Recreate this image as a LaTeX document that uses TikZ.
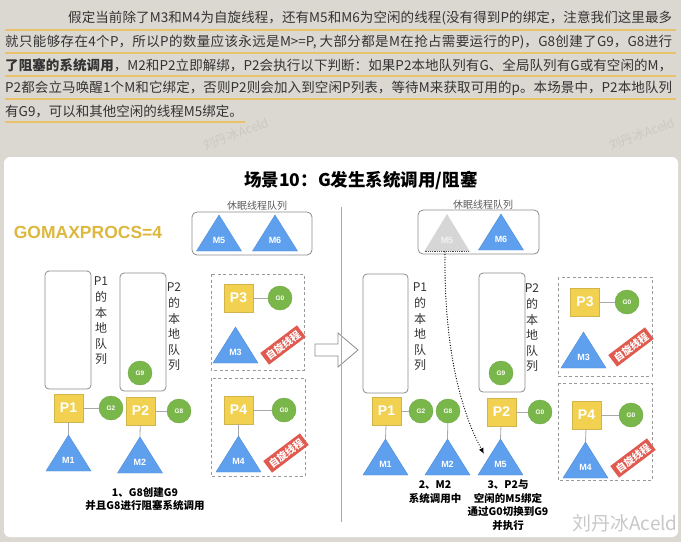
\documentclass[tikz,border=0pt]{standalone}
\usepackage{fontspec}
\setmainfont{Liberation Sans}
\newfontfamily\cjk{Noto Sans CJK SC}
\usetikzlibrary{arrows.meta}
\XeTeXlinebreaklocale "zh"
\XeTeXlinebreakskip=0pt plus 4pt
\definecolor{bgc}{HTML}{DBD8D2}
\definecolor{txtc}{HTML}{333333}
\definecolor{ulc}{HTML}{E8C36A}
\definecolor{pyellow}{HTML}{F1D14F}
\definecolor{pedge}{HTML}{D2B448}
\definecolor{ggreen}{HTML}{7AB74A}
\definecolor{gedge}{HTML}{6BA63F}
\definecolor{mblue}{HTML}{5FA0EE}
\definecolor{medge}{HTML}{4F8DDA}
\definecolor{badgered}{HTML}{E05A4F}
\definecolor{gold}{HTML}{DDB83E}
\definecolor{qgray}{HTML}{8C8C8C}
\definecolor{dgray}{HTML}{9A9A9A}
\definecolor{lgray}{HTML}{A8A8A8}
\definecolor{ghost}{HTML}{D6D6D6}
\definecolor{wmark}{HTML}{C8C8C8}
\newcommand\fs[2]{\fontsize{#1}{#2}\selectfont}
\newcommand\jl[2]{\parbox{#1}{\parfillskip=0pt\relax #2}}
\newcommand\Mtri[5][mblue]{%
  \coordinate (#2) at (#3,#4);
  \filldraw[fill=#1,draw=medge,line width=0.4pt] (#3,#4) -- ++(22.5,36) -- ++(-45,0) -- cycle;
  \node[mlab] (#2l) at (#3,#4+25) {#5};}
\tikzset{
  txt/.style={inner sep=0, anchor=west, text=txtc, font=\cjk\fs{13.5}{16}},
  uline/.style={draw=ulc, line width=2.2pt},
  pbox/.style={draw=pedge, fill=pyellow, minimum width=29pt, minimum height=28pt, inner sep=0, text=white, font=\bfseries\fs{14}{14}},
  gc/.style={circle, draw=gedge, fill=ggreen, minimum size=24pt, inner sep=0, text=white, font=\bfseries\fs{6.5}{7}},
  mlab/.style={text=white, font=\bfseries\fs{9}{9}, inner sep=0},
  qbox/.style={draw=qgray, rounded corners=4pt, line width=0.8pt, fill=white, inner sep=0},
  dbox/.style={draw=dgray, dash pattern=on 3pt off 2.5pt, line width=0.8pt},
  badge/.style={fill=badgered, text=white, font=\cjk\bfseries\fs{10}{10}, inner xsep=3pt, inner ysep=2.5pt, rotate=37},
  vlab/.style={align=center, font=\cjk\fs{12}{15.6}, text=txtc, inner sep=0},
  captxt/.style={align=center, font=\cjk\bfseries\fs{10.5}{13.7}, text=black, inner sep=0},
  slab/.style={font=\cjk\fs{10}{10}, text=txtc!80, inner sep=0},
  link/.style={draw=lgray, line width=0.8pt},
  wm/.style={font=\cjk\fs{12.5}{12.5}, text=bgc!93!black, rotate=20, inner sep=0},
}
\begin{document}
\begin{tikzpicture}[x=1pt,y=-1pt]
\useasboundingbox (0,0) rectangle (681,542);
\fill[bgc] (0,0) rectangle (681,542);
% ---------- paragraph ----------
\draw[uline] (5,30) -- (676,30);
\draw[uline] (5,53) -- (676,53);
\draw[uline] (5,76) -- (676,76);
\draw[uline] (5,99) -- (676,99);
\draw[uline] (5,122) -- (245,122);
\node[txt] (t1) at (68,18) {\jl{604pt}{假定当前除了M3和M4为自旋线程，还有M5和M6为空闲的线程(没有得到P的绑定，注意我们这里最多}};
\node[txt] (t2) at (5,42) {\jl{667pt}{就只能够存在4个P，所以P的数量应该永远是M>=P, 大部分都是M在抢占需要运行的P)，G8创建了G9，G8进行}};
\node[txt] (t3) at (5,65) {\jl{667pt}{\textbf{了阻塞的系统调用}，M2和P2立即解绑，P2会执行以下判断：如果P2本地队列有G、全局队列有G或有空闲的M，}};
\node[txt] (t4) at (5,88) {\jl{667pt}{P2都会立马唤醒1个M和它绑定，否则P2则会加入到空闲P列表，等待M来获取可用的p。本场景中，P2本地队列}};
\node[txt] (t5) at (5,111) {有G9，可以和其他空闲的线程M5绑定。};
\node[wm] (wm1) at (236,134) {刘丹冰Aceld};
\node[wm] (wm2) at (642,134) {刘丹冰Aceld};
% ---------- panel ----------
\fill[white, rounded corners=6pt] (4,157) rectangle (678,537);
\node[font=\cjk\bfseries\fs{17.5}{18}, inner sep=0] (title) at (361,180) {场景10：G发生系统调用/阻塞};
\node[font=\bfseries\fs{17.5}{18}, text=gold, inner sep=0] (gmp) at (88,232) {GOMAXPROCS=4};
% ---------- left scene ----------
\node[slab] (sl1) at (257,206) {休眠线程队列};
\draw[qgray, line width=0.8pt, rounded corners=5pt] (192,212) rectangle (312,255);
\Mtri{m5a}{219}{215}{M5}
\Mtri{m6a}{275}{215}{M6}
\node[qbox, minimum width=46pt, minimum height=118pt] (q1a) at (68,330) {};
\node[vlab] (v1a) at (101,321) {P1\\的\\本\\地\\队\\列};
\node[qbox, minimum width=46pt, minimum height=118pt] (q2a) at (143,332) {};
\node[vlab] (v2a) at (174,327) {P2\\的\\本\\地\\队\\列};
\node[gc] (g9a) at (140,373) {G9};
\node[pbox] (p1a) at (68.5,408) {P1};
\node[gc] (g2a) at (111,408) {G2};
\node[pbox] (p2a) at (140.5,411) {P2};
\node[gc] (g8a) at (179,411) {G8};
\draw[link] (p1a) -- (g2a);
\draw[link] (p2a) -- (g8a);
\Mtri{m1a}{68.5}{435}{M1}
\Mtri{m2a}{140}{437}{M2}
\draw[link] (p1a) -- (m1a);
\draw[link] (p2a) -- (m2a);
\draw[dbox] (211,274) rectangle (304,370);
\node[pbox] (p3a) at (238.5,298) {P3};
\node[gc] (g0a) at (280,298) {G0};
\draw[link] (p3a) -- (g0a);
\Mtri{m3a}{235.5}{327}{M3}
\node[badge] (b1) at (283,345) {自旋线程};
\draw[dbox] (211,378) rectangle (305,476);
\node[pbox] (p4a) at (238.5,410) {P4};
\node[gc] (g0b) at (284,410) {G0};
\draw[link] (p4a) -- (g0b);
\Mtri{m4a}{238.5}{436}{M4}
\draw[link] (p4a) -- (m4a);
\node[badge] (b2) at (286,453) {自旋线程};
\node[captxt] (c1) at (145,499) {1、G8创建G9\\并且G8进行阻塞系统调用};
% ---------- middle ----------
\draw[qgray, line width=0.8pt, fill=white] (315,344) -- (338,344) -- (338,333) -- (358,350) -- (338,367) -- (338,356) -- (315,356) -- cycle;
\draw[lgray, line width=0.8pt] (341,207) -- (341,522);
% ---------- right scene ----------
\node[slab] (sl2) at (483,205) {休眠线程队列};
\draw[qgray, line width=0.8pt, rounded corners=5pt] (418,210) rectangle (539,254);
\coordinate (gm5) at (447,214);
\fill[ghost] (447,214) -- ++(22.5,37) -- ++(-45,0) -- cycle;
\draw[black!70, dash pattern=on 0.8pt off 1pt, line width=0.6pt] (424.5,251) -- (469.5,251);
\node[mlab, text=white!95!black] (gm5l) at (447,240) {M5};
\coordinate (gm5b) at (445,252);
\Mtri{m6b}{501}{214}{M6}
\node[qbox, minimum width=45pt, minimum height=119pt] (q1b) at (385.5,333.5) {};
\node[vlab] (v1b) at (420,327) {P1\\的\\本\\地\\队\\列};
\node[qbox, minimum width=46pt, minimum height=119pt] (q2b) at (502,332.5) {};
\node[vlab] (v2b) at (532,328) {P2\\的\\本\\地\\队\\列};
\node[gc] (g9b) at (501,373) {G9};
\node[pbox] (p1b) at (386.5,411) {P1};
\node[gc] (g2b) at (421,411) {G2};
\node[gc] (g8b) at (448,411) {G8};
\node[pbox] (p2b) at (501.5,412) {P2};
\node[gc] (g0c) at (540,412) {G0};
\draw[link] (p1b) -- (g2b);
\draw[link] (p2b) -- (g0c);
\Mtri{m1b}{385.5}{439}{M1}
\Mtri{m2b}{447.5}{439}{M2}
\Mtri{m5b}{500.5}{439}{M5}
\draw[link] (p1b) -- (m1b);
\draw[link] (g8b) -- (m2b);
\draw[link] (p2b) -- (m5b);
\draw[dbox] (558,277) rectangle (652,376);
\node[pbox] (p3b) at (585,302) {P3};
\node[gc] (g0d) at (627,302) {G0};
\draw[link] (p3b) -- (g0d);
\Mtri{m3b}{583.5}{332}{M3}
\node[badge] (b3) at (631,347) {自旋线程};
\draw[dbox] (558,383) rectangle (652,480);
\node[pbox] (p4b) at (586.5,415) {P4};
\node[gc] (g0e) at (631,415) {G0};
\draw[link] (p4b) -- (g0e);
\Mtri{m4b}{585.5}{442}{M4}
\draw[link] (p4b) -- (m4b);
\node[badge] (b4) at (633,458) {自旋线程};
\coordinate (m5tip) at (484,454);
\draw[black, line width=1.3pt, line cap=round, dash pattern=on 0pt off 2.6pt, -{Latex[length=6pt,width=5pt]}] (gm5b) .. controls (444,330) and (455,400) .. (m5tip);
\node[captxt] (c2) at (435,492) {2、M2\\系统调用中};
\node[captxt] (c3) at (508,505) {3、P2与\\空闲的M5绑定\\通过G0切换到G9\\并执行};
\node[font=\cjk\fs{19}{19}, text=wmark, inner sep=0] (wm3) at (625,523) {刘丹冰Aceld};
\end{tikzpicture}
\end{document}
